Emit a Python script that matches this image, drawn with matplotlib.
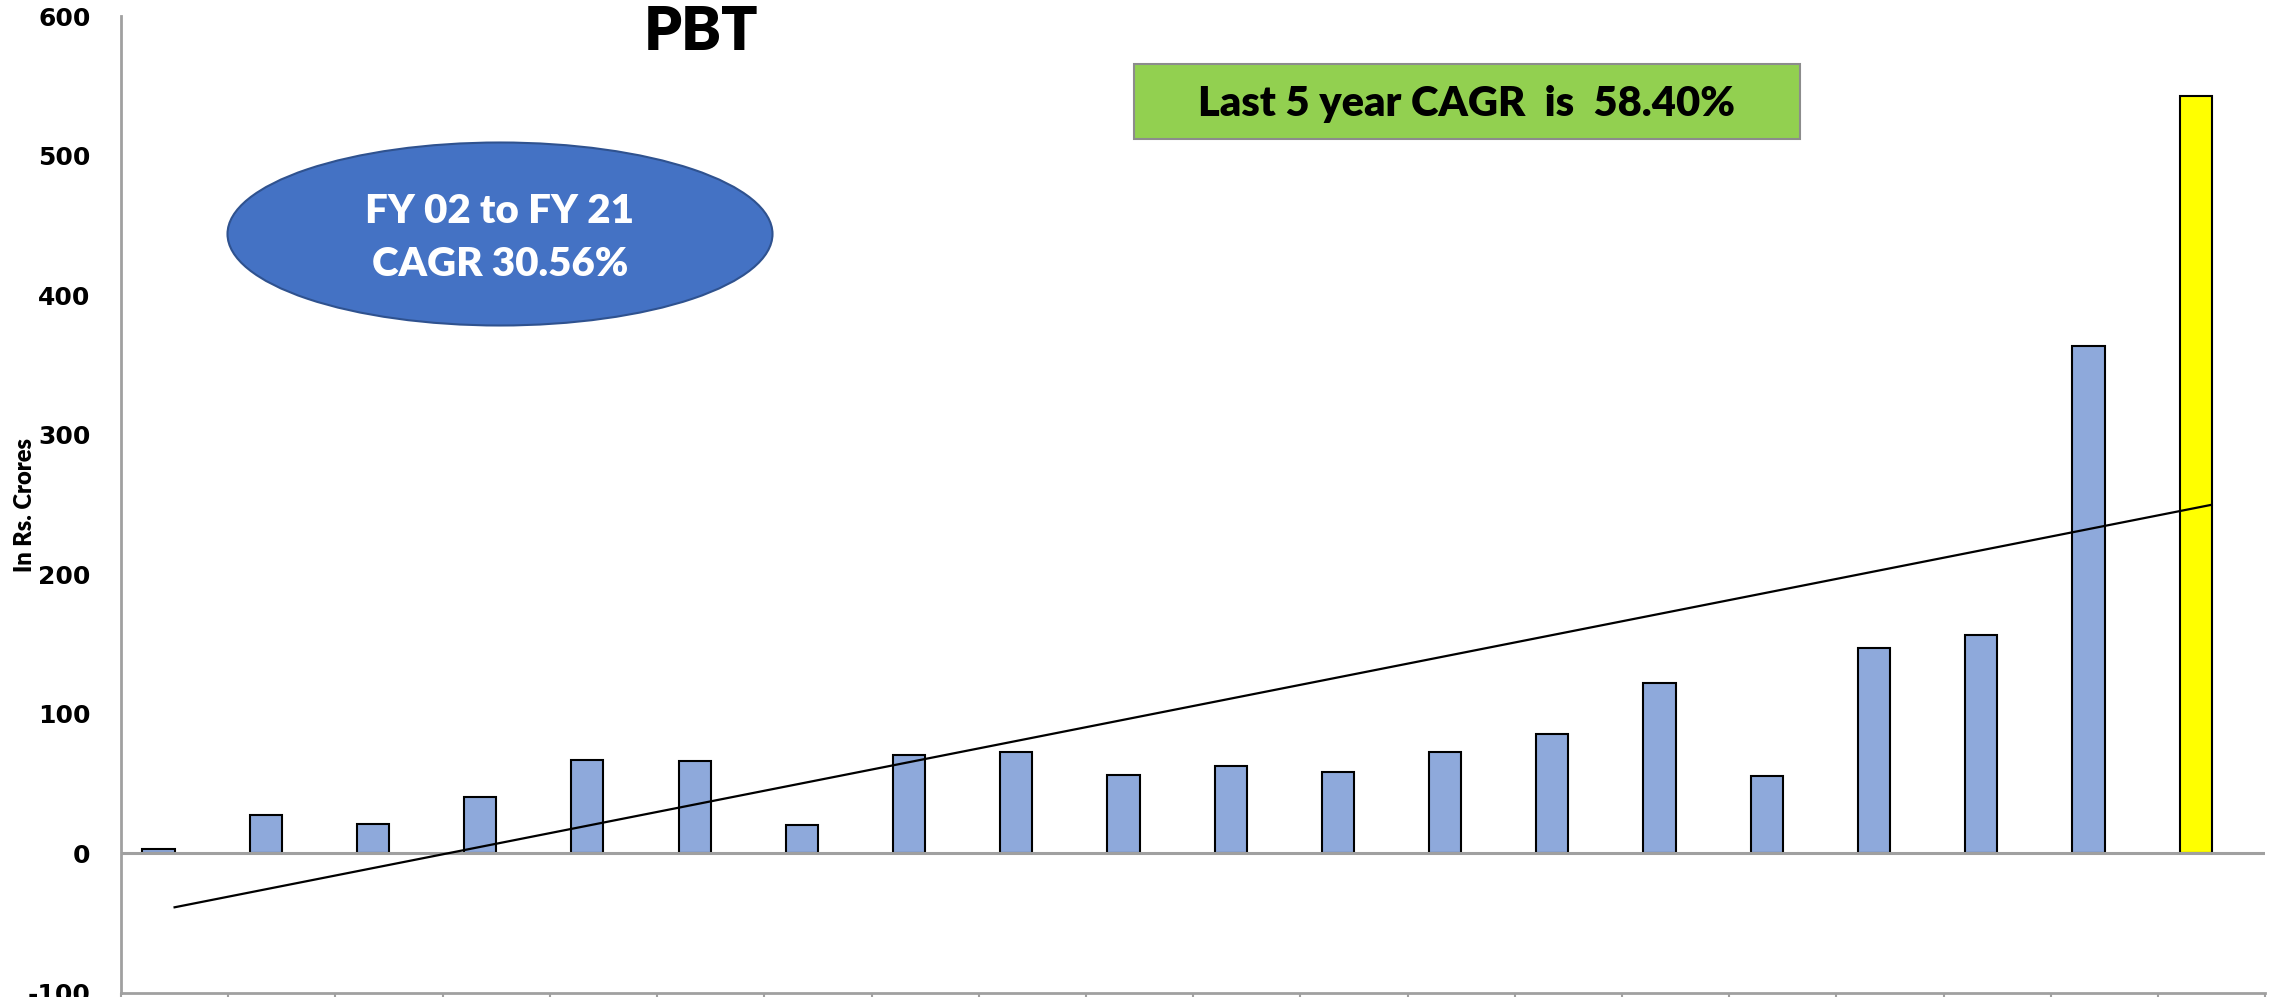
import numpy as np
import matplotlib.pyplot as plt
from matplotlib.patches import Ellipse, Rectangle

# PBT per financial year, Rs. Crores
years = ['FY02', 'FY03', 'FY04', 'FY05', 'FY06', 'FY07', 'FY08', 'FY09', 'FY10', 'FY11',
         'FY12', 'FY13', 'FY14', 'FY15', 'FY16', 'FY17', 'FY18', 'FY19', 'FY20', 'FY21']
pbt = [3.3, 27.2, 21.0, 40.1, 66.9, 66.2, 20.5, 70.5, 72.2, 55.7,
       62.8, 58.3, 72.4, 85.8, 122.0, 55.2, 147.0, 156.3, 363.6, 543.0]
bar_colors = ['#8EA9DB'] * 19 + ['#FFFF00']

y_ticks = [-100, 0, 100, 200, 300, 400, 500, 600]

title = 'PBT'
ylabel = 'In Rs. Crores'
ellipse_text = 'FY 02 to FY 21\nCAGR 30.56%'
box_text = 'Last 5 year CAGR  is  58.40%'

calibri_like = ['Lato', 'DejaVu Sans']

fig = plt.figure(figsize=(22.74, 9.97), dpi=100)
ax = fig.add_axes([0.0532, 0.0043, 0.943, 0.9795])

x = np.arange(len(years))
ax.bar(x - 0.15, pbt, width=0.3, color=bar_colors, edgecolor='black', linewidth=1.5, zorder=2)

# linear trendline, as Excel draws it
slope, intercept = np.polyfit(x, pbt, 1)
ax.plot([x[0], x[-1]], [intercept, slope * x[-1] + intercept], color='black', lw=1.6, zorder=4)

ax.axhline(0, color='#A0A0A0', lw=2.2, zorder=3)

ax.set_xlim(-0.5, len(years) - 0.5)
ax.set_ylim(-100, 600)
ax.set_yticks(y_ticks)
ax.set_yticklabels([str(v) for v in y_ticks], fontsize=18, fontweight='bold', family='DejaVu Sans')
ax.tick_params(axis='y', length=0, pad=22)

# category boundaries as tick marks on the bottom axis
ax.set_xticks(np.arange(len(years) + 1) - 0.5)
ax.set_xticklabels([])
ax.tick_params(axis='x', length=10, width=1.5, color='#A0A0A0', direction='out')

for side in ['top', 'right']:
    ax.spines[side].set_visible(False)
for side in ['left', 'bottom']:
    ax.spines[side].set_color('#A0A0A0')
    ax.spines[side].set_linewidth(2)

fig.text(25 / 2274, 1 - 505 / 997, ylabel, rotation=90, ha='center', va='center',
         fontsize=17, fontweight='heavy', family=calibri_like)

fig.text(701 / 2274, 1 - 32 / 997, title, ha='center', va='center',
         fontsize=43, fontweight='heavy', family=calibri_like)

# blue ellipse callout
ell = Ellipse((500 / 2274, 1 - 234 / 997), 545 / 2274, 183 / 997, transform=fig.transFigure,
              facecolor='#4472C4', edgecolor='#2F528F', lw=1.5)
fig.patches.append(ell)
fig.text(500 / 2274, 1 - 238 / 997, ellipse_text, ha='center', va='center', color='white',
         fontsize=29, fontweight='heavy', family=calibri_like, linespacing=1.55)

# green box
rect = Rectangle((1134 / 2274, 1 - 139 / 997), 666 / 2274, 75 / 997, transform=fig.transFigure,
                 facecolor='#92D050', edgecolor='#8C8C8C', lw=1.5)
fig.patches.append(rect)
fig.text(1467 / 2274, 1 - 104 / 997, box_text, ha='center', va='center', color='black',
         fontsize=30, fontweight='heavy', family=calibri_like)

fig.savefig('out.png', dpi=100)
